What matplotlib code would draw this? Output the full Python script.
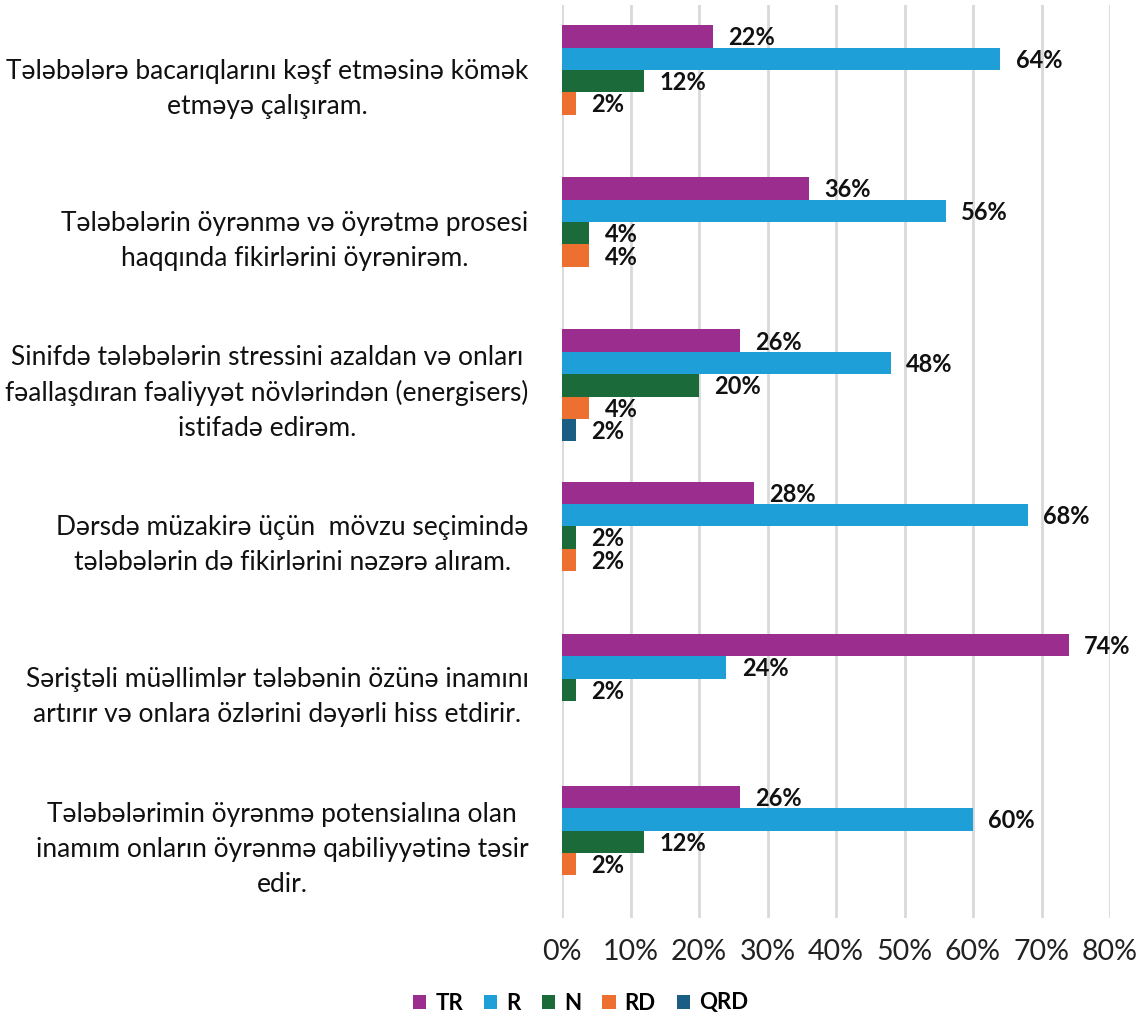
import matplotlib
matplotlib.use("Agg")
import matplotlib.pyplot as plt
import numpy as np

categories = [
    "Tələbələrə bacarıqlarını kəşf etməsinə kömək\netməyə çalışıram.",
    "Tələbələrin öyrənmə və öyrətmə prosesi\nhaqqında fikirlərini öyrənirəm.",
    "Sinifdə tələbələrin stressini azaldan və onları\nfəallaşdıran fəaliyyət növlərindən (energisers)\nistifadə edirəm.",
    "Dərsdə müzakirə üçün  mövzu seçimində\ntələbələrin də fikirlərini nəzərə alıram.",
    "Səriştəli müəllimlər tələbənin özünə inamını\nartırır və onlara özlərini dəyərli hiss etdirir.",
    "Tələbələrimin öyrənmə potensialına olan\ninamım onların öyrənmə qabiliyyətinə təsir\nedir.",
]
series_names = ["TR", "R", "N", "RD", "QRD"]
TR = [22, 36, 26, 28, 74, 26]
R = [64, 56, 48, 68, 24, 60]
N = [12, 4, 20, 2, 2, 12]
RD = [2, 4, 4, 2, 0, 2]
QRD = [0, 0, 2, 0, 0, 0]
colors = ["#9B2D8E", "#1F9FD8", "#1B6B3A", "#ED7030", "#1B5E84"]
xticks = [0, 10, 20, 30, 40, 50, 60, 70, 80]

plt.rcParams['font.family'] = ['Lato', 'DejaVu Sans']

fig = plt.figure(figsize=(11.45, 10.24), dpi=100)
ax = fig.add_axes([562/1145, 1-918/1024, (1110-562)/1145, (918-5)/1024])

h = 0.147
ypos = np.arange(len(categories))
for j, (name, vals, c) in enumerate(zip(series_names, [TR, R, N, RD, QRD], colors)):
    yy = ypos + (j - 2) * h
    ax.barh(yy, vals, height=h, color=c, label=name, zorder=3)
    for y, v in zip(yy, vals):
        if v > 0:
            ax.annotate(f"{v}%", (v, y), xytext=(11, -1), textcoords="offset points",
                        ha="left", va="center", fontsize=17, fontweight="bold", color="#111111", zorder=4)

ax.set_xlim(0, 80)
ax.set_ylim(5.5, -0.5)
ax.set_xticks(xticks)
ax.set_xticklabels([f"{t}%" for t in xticks], fontsize=20.5, color="#222222")
ax.set_yticks(ypos)
ax.set_yticklabels(categories, fontsize=19, color="#111111", multialignment="center", linespacing=1.5)
ax.tick_params(axis="both", length=0)
ax.tick_params(axis="x", pad=15)
ax.tick_params(axis="y", pad=24)
ax.grid(axis="x", color="#D9D9D9", linewidth=2, zorder=0)
ax.set_axisbelow(True)
for s in ax.spines.values():
    s.set_visible(False)

leg = fig.legend(loc="center", bbox_to_anchor=(0.507, 1-1003/1024), ncol=5, frameon=False,
                 handlelength=0.6, handleheight=0.6, handletextpad=0.4, columnspacing=0.95,
                 prop={"size": 16, "weight": "bold"})

fig.savefig("out.png", dpi=100)
